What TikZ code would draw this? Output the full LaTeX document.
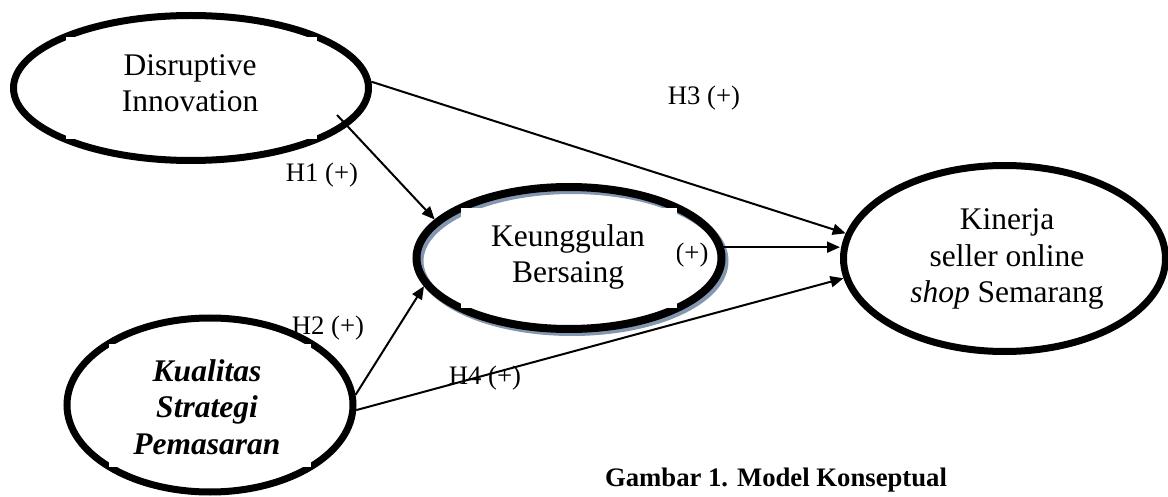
\documentclass[tikz,border=0pt]{standalone}
\usepackage{fontspec}
\setmainfont{Liberation Serif}
\usetikzlibrary{shapes.geometric,arrows.meta,calc}
\definecolor{shadowblue}{RGB}{132,151,176}

\begin{document}
\begin{tikzpicture}[x=1pt,y=-1pt,
  construct/.style={ellipse, draw=black, line width=7pt, inner sep=0pt},
  bigtext/.style={font=\fontsize{31.5}{36.5}\selectfont, align=center, inner sep=0pt},
  hyp/.style={font=\fontsize{26.7}{31}\selectfont, inner sep=0pt},
  link/.style={line width=2pt, -{Triangle[length=13pt,width=11pt]}},
  textbox/.style={fill=white},
]
\useasboundingbox (0,0) rectangle (1168,497);

% hypothesis labels (drawn first, shapes and links go on top)
\node[hyp] (lh3) at (704,98) {H3 (+)};
\node[hyp] (lh1) at (322,175) {H1 (+)};
\node[hyp] (lh2) at (328,328) {H2 (+)};
\node[hyp] (lh4) at (485,378) {H4 (+)};
\node[hyp] (lh5) at (692,255) {(+)};

% shadow under the mediating construct
\draw[line width=8pt, shadowblue] (572,261) ellipse [x radius=152.5pt, y radius=71pt];

% constructs
\node[construct, minimum width=355pt, minimum height=145pt] (din) at (191,88) {};
\node[construct, line width=8pt, minimum width=305pt, minimum height=142pt] (keu) at (569,258) {};
\node[construct, minimum width=322pt, minimum height=186pt] (kin) at (1004.5,258.5) {};
\node[construct, minimum width=286pt, minimum height=174pt] (kua) at (210,405) {};

% text boxes inscribed in the ellipses
\fill[textbox] ($(din.center)+(-125.5,-51.3)$) rectangle ($(din.center)+(125.5,51.3)$);
\fill[textbox] ($(keu.center)+(-107.8,-50.2)$) rectangle ($(keu.center)+(107.8,50.2)$);
\fill[textbox] ($(kua.center)+(-101.1,-61.5)$) rectangle ($(kua.center)+(101.1,61.5)$);

% construct names
\node[bigtext] (dint) at (190,83) {Disruptive\\Innovation};
\node[bigtext] (keut) at (568,257) {Keunggulan\\Bersaing};
\node[bigtext] (kint) at (1007,259) {Kinerja\\seller online\\\textit{shop} Semarang};
\node[bigtext, font=\fontsize{31.5}{36.5}\selectfont\bfseries\itshape] (kuat) at (207,407) {Kualitas\\Strategi\\Pemasaran};

% paths
\coordinate (h1s) at (337,115);
\draw[link] (h1s) -- (keu.164);
\draw[link] (din.2) -- (kin.171);
\draw[link] (keu.4) -- (keu.4 -| kin.west);
\draw[link] (kua.4) -- (keu.191);
\draw[link] (kua.-2) -- (kin.187);

% caption
\node[font=\fontsize{26.7}{31}\selectfont\bfseries, inner sep=0pt] (cap) at (776,480) {Gambar 1. Model Konseptual};
\end{tikzpicture}
\end{document}
